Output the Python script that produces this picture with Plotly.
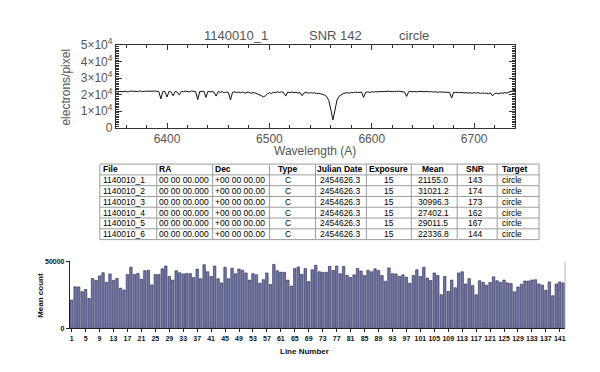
import numpy as np
import plotly.graph_objects as go

# ---------------- data ----------------
TITLE_FILE = "1140010_1"
TITLE_SNR = "SNR 142"
TITLE_TARGET = "circle"

WAVE_START, WAVE_STOP, WAVE_STEP = 6350, 6740, 2
flux = [
    22300, 21600, 22000, 21800, 22100, 22000, 21700, 22200, 22100, 21900,
    22200, 22000, 22300, 21900, 22100, 22200, 22000, 22300, 22100, 22200,
    22100, 21900, 17500, 22000, 21800, 18600, 22100, 21700, 19400, 22000,
    21600, 19900, 22100, 21800, 22200, 22000, 21700, 22300, 22100, 21800,
    17000, 22000, 21900, 22200, 18400, 22100, 21700, 22000, 21500, 19200,
    21900, 21500, 21800, 21200, 21700, 21300, 16800, 21500, 21700, 21300,
    21600, 21200, 21700, 21000, 21400, 21600, 20800, 21300, 21100, 20600,
    20400, 19500, 18700, 19300, 20500, 21200, 20800, 21500, 21300, 21700,
    21400, 21800, 21200, 19200, 21600, 21300, 21700, 21200, 21500, 21000,
    21300, 19400, 21200, 21500, 20900, 21300, 21000, 21200, 20700, 20900,
    20600, 20300, 19800, 18800, 16500, 11000, 4800, 10500, 16800, 19000,
    20100, 20700, 21000, 21300, 20900, 21400, 21200, 21600, 21300, 21500,
    21600, 18400, 21500, 21700, 21400, 21800, 21600, 21900, 21700, 22000,
    21800, 22100, 21900, 22200, 22000, 21800, 22100, 21900, 22200, 22000,
    21900, 21600, 19000, 21800, 22100, 21800, 22000, 21700, 22100, 21900,
    22000, 21800, 22100, 21700, 21900, 21600, 21800, 21500, 21700, 21600,
    21800, 21500, 21700, 21400, 18000, 21600, 21300, 21500, 21200, 21400,
    21100, 21300, 21000, 21200, 20900, 21300, 21000, 21200, 20800, 21100,
    20800, 21000, 20600, 21100, 19300, 20700, 21000, 20600, 21100, 20900,
    21300, 21000, 21600, 21900, 22300, 22700,
]
wave = np.arange(WAVE_START, WAVE_STOP + 1, WAVE_STEP)

table_header = ["File", "RA", "Dec", "Type", "Julian Date", "Exposure", "Mean", "SNR", "Target"]
files = ["1140010_1", "1140010_2", "1140010_3", "1140010_4", "1140010_5", "1140010_6"]
ra = ["00 00 00.000"] * 6
dec = ["+00 00 00.00"] * 6
obs_type = ["C"] * 6
julian = ["2454626.3"] * 6
exposure = ["15"] * 6
mean_vals = ["21155.0", "31021.2", "30996.3", "27402.1", "29011.5", "22336.8"]
snr_vals = ["143", "174", "173", "162", "167", "144"]
target = ["circle"] * 6
table_columns = [files, ra, dec, obs_type, julian, exposure, mean_vals, snr_vals, target]

line_counts = [
    21155, 31021, 30996, 27402, 29011, 22337, 37300, 35900, 39200, 41600,
    34400, 40700, 35900, 37300, 30100, 28700, 40200, 45700, 40200, 41100,
    36800, 43100, 43500, 32500, 40200, 40200, 44500, 46600, 38800, 36100,
    43100, 41600, 40700, 41100, 40900, 38000, 44300, 37100, 47600, 42300,
    38800, 46600, 37100, 34000, 45700, 37100, 45000, 40900, 44300, 43500,
    41400, 36100, 40900, 40000, 33700, 36400, 41400, 32800, 47800, 43100,
    41900, 41900, 36100, 31600, 44700, 45900, 40400, 44700, 35000, 43800,
    47100, 42300, 41900, 41900, 46400, 43300, 46600, 40900, 46200, 39500,
    38000, 40000, 44700, 42800, 39500, 43500, 42300, 44500, 43300, 39500,
    35200, 45200, 40900, 40700, 38800, 40000, 38300, 33700, 39500, 43800,
    38800, 45700, 37600, 35700, 41400, 39500, 25100, 38800, 27500, 36100,
    30400, 41400, 42300, 33200, 37100, 32100, 25100, 35600, 34400, 32300,
    34200, 38500, 35600, 34400, 36100, 34000, 33500, 27300, 30900, 33000,
    35400, 35400, 36100, 36400, 33200, 32300, 28500, 34700, 24400, 33200,
    34700, 34000,
]
line_numbers = list(range(1, len(line_counts) + 1))
bar_tick_vals = list(range(1, 142, 4))

# ---------------- layout helpers ----------------
# the page body keeps its default 8px margin, so the figure is drawn 8px in
OFF = 8
W, H = 600 - 2 * OFF, 372 - 2 * OFF
def fx(x): return (x - OFF) / W
def fy(y): return 1 - (y - OFF) / H

GRAY = "#555555"
FONT = "Liberation Sans"

# table geometry (page pixels)
TBL_COL_EDGES = [100, 157, 213, 270, 316, 367, 412, 458, 498, 540]
TBL_TEXT_X = [102.5, 158.5, 214.5, 288, 340.5, 389.5, 434, 475.5, 501.5]
TBL_ALIGN = ["left", "left", "left", "center", "center", "center", "center", "center", "left"]
TBL_TOP, TBL_ROW_H = 162, 11.3
TBL_LINE = "#9c9c9c"

fig = go.Figure()

fig.add_trace(go.Scatter(
    x=wave, y=flux, mode="lines",
    line=dict(color="#111111", width=1),
    xaxis="x", yaxis="y", showlegend=False, hoverinfo="skip",
))

fig.add_trace(go.Bar(
    x=line_numbers, y=line_counts,
    marker=dict(color="#737aab", line=dict(color="#1e1f45", width=0.6)),
    xaxis="x2", yaxis="y2", showlegend=False, hoverinfo="skip",
))

ylabels = ["0"] + ["%d\u00d710<sup>4</sup>" % k for k in range(1, 6)]

annotations = [
    dict(text=TITLE_FILE, x=fx(236), y=fy(27), xref="paper", yref="paper",
         showarrow=False, font=dict(size=13, color=GRAY), xanchor="center", yanchor="middle"),
    dict(text=TITLE_SNR, x=fx(336), y=fy(27), xref="paper", yref="paper",
         showarrow=False, font=dict(size=13, color=GRAY), xanchor="center", yanchor="middle"),
    dict(text=TITLE_TARGET, x=fx(415), y=fy(27), xref="paper", yref="paper",
         showarrow=False, font=dict(size=13, color=GRAY), xanchor="center", yanchor="middle"),
    dict(text="electrons/pixel", x=fx(66), y=fy(81), xref="paper", yref="paper",
         showarrow=False, textangle=-90, font=dict(size=12, color=GRAY),
         xanchor="center", yanchor="middle"),
    dict(text="Wavelength (A)", x=fx(316), y=fy(148), xref="paper", yref="paper",
         showarrow=False, font=dict(size=12, color=GRAY), xanchor="center", yanchor="middle"),
    dict(text="<b>Mean count</b>", x=fx(41), y=fy(299), xref="paper", yref="paper",
         showarrow=False, textangle=-90, font=dict(size=8, color="#111"),
         xanchor="center", yanchor="middle"),
    dict(text="<b>Line Number</b>", x=fx(305), y=fy(358), xref="paper", yref="paper",
         showarrow=False, font=dict(size=8, color="#111"), xanchor="center", yanchor="middle"),
]

shapes = [
    dict(type="line", xref="paper", yref="paper",
         x0=fx(566), x1=fx(566), y0=fy(334), y1=fy(264),
         line=dict(color="#b8b8b8", width=1)),
]

# ---- table built from the column lists ----
n_rows = len(files) + 1
tbl_bottom = TBL_TOP + n_rows * TBL_ROW_H
for r in range(n_rows + 1):
    yy = TBL_TOP + r * TBL_ROW_H
    shapes.append(dict(type="line", xref="paper", yref="paper",
                       x0=fx(TBL_COL_EDGES[0]), x1=fx(TBL_COL_EDGES[-1]), y0=fy(yy), y1=fy(yy),
                       line=dict(color=TBL_LINE, width=1)))
for xe in TBL_COL_EDGES:
    shapes.append(dict(type="line", xref="paper", yref="paper",
                       x0=fx(xe), x1=fx(xe), y0=fy(TBL_TOP), y1=fy(tbl_bottom),
                       line=dict(color=TBL_LINE, width=1)))
for c, head in enumerate(table_header):
    rows = ["<b>%s</b>" % head] + list(table_columns[c])
    for r, txt in enumerate(rows):
        yc = TBL_TOP + (r + 0.5) * TBL_ROW_H
        annotations.append(dict(
            text=txt, x=fx(TBL_TEXT_X[c]), y=fy(yc), xref="paper", yref="paper",
            showarrow=False, xanchor=TBL_ALIGN[c], yanchor="middle",
            font=dict(family=FONT, size=8.5, color="black"), borderpad=0,
        ))

fig.update_layout(
    width=W, height=H,
    margin=dict(l=0, r=0, t=0, b=0),
    paper_bgcolor="white", plot_bgcolor="white",
    bargap=0.3,
    font=dict(family=FONT, color=GRAY),
    xaxis=dict(
        domain=[fx(116), fx(516)], anchor="y",
        range=[WAVE_START, WAVE_STOP],
        tickvals=[6400, 6500, 6600, 6700],
        ticks="inside", ticklen=5, tickcolor="#333", mirror="allticks",
        minor=dict(dtick=20, ticks="inside", ticklen=3, tickcolor="#333"),
        showline=True, linecolor="#333", linewidth=1,
        showgrid=False, zeroline=False,
        tickfont=dict(size=12, color=GRAY),
    ),
    yaxis=dict(
        domain=[fy(124), fy(37.5)], anchor="x",
        range=[0, 50000],
        tickvals=[0, 10000, 20000, 30000, 40000, 50000], ticktext=ylabels,
        ticks="inside", ticklen=6, tickcolor="#333", mirror="allticks",
        minor=dict(dtick=1000, ticks="inside", ticklen=3, tickcolor="#333"),
        showline=True, linecolor="#333", linewidth=1,
        showgrid=False, zeroline=False,
        tickfont=dict(size=12, color=GRAY),
    ),
    xaxis2=dict(
        domain=[fx(70), fx(566)], anchor="y2",
        range=[0.5, len(line_counts) + 0.5],
        tickvals=bar_tick_vals,
        ticks="outside", ticklen=3, tickcolor="#222",
        showline=True, linecolor="#222", linewidth=1, mirror=False,
        showgrid=False, zeroline=False,
        tickfont=dict(size=7, color="#111", family=FONT, weight="bold"),
    ),
    yaxis2=dict(
        domain=[fy(334), fy(264)], anchor="x2",
        range=[0, 50000],
        tickvals=[0, 50000], ticktext=["0", "50000"],
        ticks="outside", ticklen=3, tickcolor="#222",
        showline=True, linecolor="#222", linewidth=1,
        showgrid=True, gridcolor="#b8b8b8", zeroline=False,
        tickfont=dict(size=7, color="#111", family=FONT, weight="bold"),
    ),
    shapes=shapes,
    annotations=annotations,
)

fig.write_html("out.html")
